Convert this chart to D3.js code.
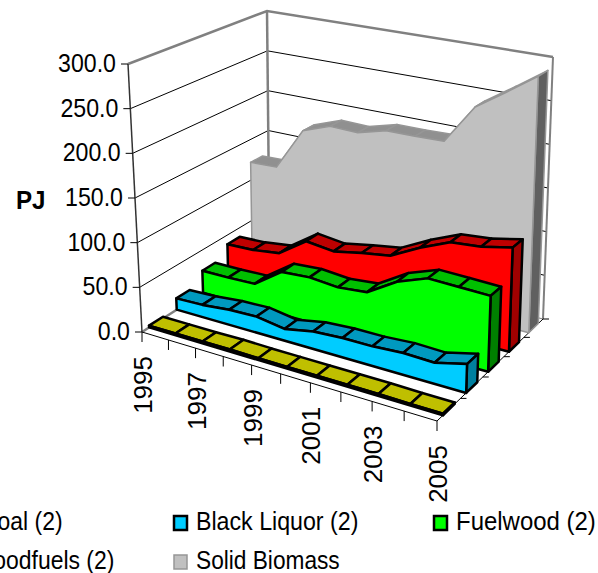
<!DOCTYPE html>
<html><head><meta charset="utf-8">
<script src="https://cdn.jsdelivr.net/npm/d3@7"></script>
<style>html,body{margin:0;padding:0;background:#fff;overflow:hidden}svg{display:block}text{font-family:"Liberation Sans",Arial,sans-serif;fill:#000}</style>
</head><body><svg id="c" width="598" height="573"></svg>
<script>
const years=[1995,1996,1997,1998,1999,2000,2001,2002,2003,2004,2005];
const yearLabels=[1995,1997,1999,2001,2003,2005];
const seriesNames=["Coal (2)","Black Liquor (2)","Fuelwood (2)","Woodfuels (2)","Solid Biomass"];
const coal=[2,2,2,2.5,2,2,2,2,2,1.5,1.5];
const blackLiquor=[13,14,17,18,13,19,21,21,23,22,30];
const fuelwood=[26,26,27,49,51,48,51,71,83,82,81];
const woodfuels=[39,40,44,66,62,68,73,90,104,107,114];
const solidBiomass=[122,123,174,186,185,194,194,195,241,264,288];
const valuesBySeries=[coal,blackLiquor,fuelwood,woodfuels,solidBiomass];
const frontColors=["#808000","#00CCFF","#00FF00","#FF0000","#C0C0C0"];
const topColors=["#BFBF00","#0099BF","#00BF00","#BF0000","#909090"];
const sideColors=["#808000","#007F9F","#008000","#A00000","#606060"];
const strokeColors=["#000","#000","#000","#000","#969696"];
const strokeWidths=[2.5,2.5,2.5,2.5,1.5];

const svg=d3.select("#c");
function homography(A,B,C,D){
  const sx=A[0]-B[0]+C[0]-D[0],sy=A[1]-B[1]+C[1]-D[1];
  const dx1=B[0]-C[0],dy1=B[1]-C[1],dx2=D[0]-C[0],dy2=D[1]-C[1];
  const det=dx1*dy2-dx2*dy1;
  const g=(sx*dy2-dx2*sy)/det,h=(dx1*sy-sx*dy1)/det;
  return (u,v)=>{const w=1+g*u+h*v;
    return [(A[0]+(B[0]-A[0]+g*B[0])*u+(D[0]-A[0]+h*D[0])*v)/w,
            (A[1]+(B[1]-A[1]+g*B[1])*u+(D[1]-A[1]+h*D[1])*v)/w];};
}
const floor=homography([142,332],[437,421],[543,319],[269.5,250]);
const roof=homography([128,64],[445,122],[553,57],[267,11]);
const tScale=d3.scalePoint().domain(years).range([0,1]);
const zScale=d3.scaleBand().domain(seriesNames).range([0,1]).paddingInner(.5).paddingOuter(.25);
const vScale=d3.scaleLinear().domain([0,300]).range([0,1]);
function P(t,z,v){const f=floor(t,z),r=roof(t,z),k=vScale(v);return [f[0]+(r[0]-f[0])*k,f[1]+(r[1]-f[1])*k];}
const poly=d3.line().curve(d3.curveLinearClosed);
const line=d3.line();
function label(sel,x,y,str,o={}){
  return sel.append("text").attr("transform",`translate(${x},${y}) rotate(${o.rot||0}) scale(${o.sx||1},1)`)
    .attr("text-anchor",o.anchor||"start").attr("font-size",o.size||26).attr("font-weight",o.weight||"normal").text(str);
}

// walls
const g=svg.append("g");
vScale.ticks(6).slice(1,-1).forEach(v=>{
  g.append("path").attr("d",line([P(0,0,v),P(0,1,v),P(1,1,v)])).attr("fill","none").attr("stroke","#000").attr("stroke-width",1);
});
g.append("path").attr("d",line([P(0,1,0),P(0,1,300)])).attr("fill","none").attr("stroke","#808080").attr("stroke-width",2.5);
g.append("path").attr("d",line([P(1,1,0),P(1,1,300)])).attr("fill","none").attr("stroke","#808080").attr("stroke-width",2);
g.append("path").attr("d",line([P(0,0,300),P(0,1,300),P(1,1,300)])).attr("fill","none").attr("stroke","#808080").attr("stroke-width",2.5);
g.append("path").attr("d",line([P(0,0,0),P(0,1,0)])).attr("fill","none").attr("stroke","#808080").attr("stroke-width",2.5);
g.append("path").attr("d",line([P(0,1,0),P(1,1,0)])).attr("fill","none").attr("stroke","#808080").attr("stroke-width",1);
g.append("path").attr("d",line([P(1,0,0),P(1,1,0)])).attr("fill","none").attr("stroke","#000").attr("stroke-width",1);
g.append("path").attr("d",line([P(0,0,0),P(1,0,0)])).attr("fill","none").attr("stroke","#000").attr("stroke-width",1);
g.append("path").attr("d",line([P(0,0,0),P(0,0,300)])).attr("fill","none").attr("stroke","#333").attr("stroke-width",1.5);

// y axis
vScale.ticks(6).forEach(v=>{
  const p=P(0,0,v);
  g.append("path").attr("d",line([[p[0]-7,p[1]],p])).attr("stroke","#000").attr("stroke-width",1);
  label(g,p[0]-12,p[1]+8,v.toFixed(1),{anchor:"end",sx:.89});
});
label(g,16,209,"PJ",{weight:"bold",sx:.93});
// x axis
years.forEach(y=>{
  const p=P(tScale(y),0,0);
  g.append("path").attr("d",line([p,[p[0],p[1]+10]])).attr("stroke","#000").attr("stroke-width",1);
});
yearLabels.forEach(y=>{
  const p=P(tScale(y),0,0);
  label(g,p[0]+10,p[1]+24,y,{anchor:"end",rot:-90});
});
// depth ticks
seriesNames.forEach((s,i)=>{
  const p=P(1,(i+1)/seriesNames.length,0);
  g.append("path").attr("d",line([p,[p[0]+6,p[1]]])).attr("stroke","#000").attr("stroke-width",1);
});

// series back to front
d3.range(seriesNames.length-1,-1,-1).forEach(i=>{
  const vals=valuesBySeries[i],s=seriesNames[i];
  const z0=zScale(s),z1=z0+zScale.bandwidth();
  const sg=svg.append("g").attr("stroke",strokeColors[i]).attr("stroke-width",strokeWidths[i]).attr("stroke-linejoin","round");
  vals.forEach((v,j)=>{
    if(j===vals.length-1)return;
    const a=tScale(years[j]),b=tScale(years[j+1]),w=vals[j+1];
    sg.append("path").attr("fill",topColors[i]).attr("d",poly([P(a,z0,v),P(b,z0,w),P(b,z1,w),P(a,z1,v)]));
  });
  const last=vals[vals.length-1];
  sg.append("path").attr("fill",sideColors[i]).attr("d",poly([P(1,z0,0),P(1,z1,0),P(1,z1,last),P(1,z0,last)]));
  const front=vals.map((v,j)=>P(tScale(years[j]),z0,v));
  sg.append("path").attr("fill",frontColors[i]).attr("d",poly([P(0,z0,0),...front,P(1,z0,0)]));
});

// legend
const legendX=[-41,174,434,-50,174],legendY=[530,530,530,569,569],legendSquash=[.9,.91,.94,.9,.89];
seriesNames.forEach((s,i)=>{
  svg.append("rect").attr("x",legendX[i]).attr("y",legendY[i]-14).attr("width",13).attr("height",14)
    .attr("fill",frontColors[i]).attr("stroke",strokeColors[i]).attr("stroke-width",strokeWidths[i]);
  label(svg,legendX[i]+22,legendY[i],s,{size:25.5,sx:legendSquash[i]});
});
</script></body></html>
